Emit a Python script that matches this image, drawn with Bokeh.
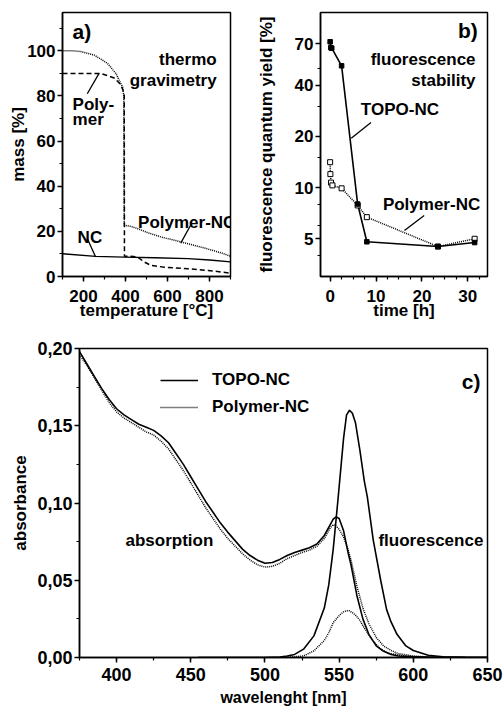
from bokeh.plotting import figure
from bokeh.layouts import column, row
from bokeh.models import (Label, Legend, LegendItem, SingleIntervalTicker, FixedTicker,
                          CustomJSTickFormatter)
from bokeh.embed import file_html
from bokeh.resources import INLINE

FONT = "Liberation Sans"

# ---------------- panel a: thermogravimetry ----------------
tg_temp_polymer = [100, 200, 282, 314, 346, 378, 390, 394, 395, 426, 458, 490, 522, 586, 698, 794, 900]
tg_mass_polymer = [90, 90, 90, 89, 88, 85, 82, 80, 9, 9, 8.6, 6.4, 4.9, 4.1, 3.4, 2.7, 1.5]
tg_temp_polymer_nc = [100, 150, 186, 250, 314, 354, 386, 392, 394, 426, 458, 506, 570, 666, 762, 858, 900]
tg_mass_polymer_nc = [100, 100, 99.7, 98.2, 94.5, 90, 84, 80, 22.7, 22.2, 21.2, 19.4, 17.5, 15.3, 13, 10.4, 9]
tg_temp_nc = [100, 258, 394, 538, 698, 800, 900]
tg_mass_nc = [10.1, 8.9, 8.6, 8.3, 7.9, 7.3, 6.5]

# ---------------- panel b: fluorescence stability ----------------
time_topo = [0, 0.15, 0.35, 2.5, 6, 8, 23.5, 31.5]
qy_topo = [72, 66.5, 66, 52, 8.0, 4.8, 4.5, 4.75]
time_polymer = [0, 0.05, 0.2, 0.5, 2.5, 6, 8, 23.5, 31.5]
qy_polymer = [14.1, 12, 10.7, 10.3, 9.9, 7.85, 6.7, 4.5, 5.0]
qy_ticks = [5, 10, 20, 40, 70]
qy_minor_ticks = [4, 6, 8, 15, 30, 50]

# ---------------- panel c: spectra ----------------
wl_abs = [375, 380, 385, 390, 395, 400, 405, 410, 415, 420, 425, 430, 435, 440, 445, 450,
          455, 460, 465, 470, 475, 480, 485, 490, 495, 500, 505, 510, 515, 520, 525, 530,
          535, 540, 544, 546, 548, 550, 553, 556, 558, 562, 566, 570, 575, 580, 585, 590,
          600, 610, 630, 650]
abs_topo = [0.198, 0.190, 0.182, 0.174, 0.167, 0.161, 0.157, 0.154, 0.151, 0.149, 0.147,
            0.1435, 0.139, 0.132, 0.125, 0.117, 0.109, 0.101, 0.094, 0.087, 0.081, 0.0755,
            0.070, 0.066, 0.063, 0.061, 0.0615, 0.0635, 0.066, 0.068, 0.0695, 0.071,
            0.0735, 0.079, 0.086, 0.0895, 0.091, 0.090, 0.082, 0.068, 0.060, 0.040, 0.025,
            0.015, 0.0075, 0.004, 0.002, 0.001, 0.0004, 0.0001, 0.0, 0.0]
abs_polymer = [0.196, 0.189, 0.181, 0.173, 0.165, 0.159, 0.155, 0.152, 0.149, 0.146, 0.144,
               0.140, 0.135, 0.128, 0.121, 0.113, 0.105, 0.097, 0.090, 0.083, 0.077, 0.072,
               0.067, 0.063, 0.060, 0.0585, 0.059, 0.061, 0.064, 0.066, 0.068, 0.0695,
               0.072, 0.077, 0.084, 0.086, 0.085, 0.083, 0.078, 0.070, 0.063, 0.046, 0.032,
               0.022, 0.013, 0.0075, 0.0045, 0.0025, 0.001, 0.0003, 0.0, 0.0]
wl_fl = [455, 500, 510, 515, 520, 526, 533, 540, 543, 546, 549, 551, 553, 555, 557, 559,
         561, 564, 567, 569, 573, 578, 582, 585, 589, 595, 600, 610, 620, 635, 650]
fl_topo = [0, 0, 0.0003, 0.001, 0.002, 0.0054, 0.014, 0.032, 0.047, 0.070, 0.100, 0.121,
           0.142, 0.157, 0.160, 0.158, 0.152, 0.134, 0.114, 0.104, 0.076, 0.050, 0.031,
           0.023, 0.015, 0.0075, 0.0045, 0.0014, 0.0005, 0.0001, 0.0]
fl_polymer = [0, 0, 0, 0.0002, 0.0005, 0.001, 0.0043, 0.011, 0.016, 0.0225, 0.026, 0.028,
              0.0295, 0.0303, 0.0302, 0.029, 0.0275, 0.024, 0.019, 0.016, 0.0105, 0.0055,
              0.0033, 0.0025, 0.0018, 0.0008, 0.0005, 0.0001, 0.0, 0.0, 0.0]


def style(p, tick_size):
    p.outline_line_color = "black"
    p.outline_line_width = 1.5
    p.xgrid.visible = False
    p.ygrid.visible = False
    p.background_fill_color = "white"
    p.border_fill_color = "white"
    for ax in p.axis:
        ax.axis_line_width = 1.5
        ax.axis_line_color = "black"
        ax.major_tick_in = 0
        ax.major_tick_out = 5
        ax.minor_tick_in = 0
        ax.minor_tick_out = 3
        ax.major_tick_line_width = 1.5
        ax.minor_tick_line_width = 1.2
        ax.major_tick_line_color = "black"
        ax.minor_tick_line_color = "black"
        ax.major_label_text_font = FONT
        ax.major_label_text_font_style = "bold"
        ax.major_label_text_font_size = tick_size
        ax.major_label_text_color = "black"
        ax.major_label_standoff = 2
        ax.axis_label_text_font = FONT
        ax.axis_label_text_font_style = "bold"
        ax.axis_label_text_font_size = "17px"
        ax.axis_label_text_color = "black"


def label(p, x, y, text, align="left", size="17px"):
    p.add_layout(Label(x=x, y=y, text=text, text_align=align, text_baseline="middle",
                       text_font=FONT, text_font_style="bold", text_font_size=size,
                       text_color="black"))


DOT = "1 1"

# ---------------- figure a ----------------
pa = figure(width=252, height=338, x_range=(100, 900), y_range=(0, 117),
            output_backend="svg", toolbar_location=None,
            min_border_left=62, min_border_right=22, min_border_top=12, min_border_bottom=62)
style(pa, "17px")
pa.xaxis.ticker = SingleIntervalTicker(interval=200, num_minor_ticks=2)
pa.yaxis.ticker = SingleIntervalTicker(interval=20, num_minor_ticks=2)
pa.xaxis.axis_label = "temperature [°C]"
pa.yaxis.axis_label = "mass [%]"
pa.xaxis.major_label_standoff = 8
pa.xaxis.axis_label_standoff = -4
pa.yaxis.axis_label_standoff = -4

pa.line(tg_temp_polymer, tg_mass_polymer, line_color="black", line_width=1.5, line_dash="5 3")
pa.line(tg_temp_polymer_nc, tg_mass_polymer_nc, line_color="black", line_width=1.5, line_dash=DOT)
pa.line(tg_temp_nc, tg_mass_nc, line_color="black", line_width=1.4)

label(pa, 148, 108.7, "a)", size="21px")
label(pa, 834, 96, "thermo", align="right")
label(pa, 834, 87, "gravimetry", align="right")
label(pa, 148, 76.4, "Poly-")
label(pa, 148, 69.8, "mer")
label(pa, 460, 24, "Polymer-NC")
label(pa, 172, 17.3, "NC")
pa.segment(x0=[218, 714, 218], y0=[81, 23.4, 16.8], x1=[274, 663, 258], y1=[90, 14.8, 8.6],
           line_color="black", line_width=1.3)

# ---------------- figure b ----------------
pb = figure(width=252, height=338, x_range=(-2.1, 34.3), y_range=(3, 107), y_axis_type="log",
            output_backend="svg", toolbar_location=None,
            min_border_left=68, min_border_right=17, min_border_top=12, min_border_bottom=62)
style(pb, "17px")
pb.xaxis.ticker = SingleIntervalTicker(interval=10, num_minor_ticks=4)
pb.yaxis.ticker = FixedTicker(ticks=qy_ticks, minor_ticks=qy_minor_ticks)
pb.yaxis.formatter = CustomJSTickFormatter(code="return tick.toFixed(0);")
pb.xaxis.axis_label = "time [h]"
pb.yaxis.axis_label = "fluorescence quantum yield [%]"
pb.xaxis.major_label_standoff = 8
pb.xaxis.axis_label_standoff = -4
pb.yaxis.axis_label_standoff = 16

pb.line(time_polymer, qy_polymer, line_color="black", line_width=1.5, line_dash=DOT)
pb.line(time_topo, qy_topo, line_color="black", line_width=1.6)
pb.scatter(time_polymer, qy_polymer, marker="square", size=5, fill_color="white",
           line_color="black", line_width=1)
pb.scatter(time_topo, qy_topo, marker="square", size=4.5, fill_color="black", line_color="black")

label(pb, 32.2, 83.5, "b)", align="right", size="21px")
label(pb, 31.7, 56.9, "fluorescence", align="right")
label(pb, 31.7, 42.8, "stability", align="right")
label(pb, 6.7, 28.9, "TOPO-NC")
label(pb, 11.5, 8.0, "Polymer-NC")
pb.segment(x0=[8.9, 20.5], y0=[24.1, 6.85], x1=[4.6, 16.2], y1=[19.5, 5.6],
           line_color="black", line_width=1.3)

# ---------------- figure c ----------------
pc = figure(width=504, height=373, x_range=(375, 650), y_range=(0, 0.2),
            output_backend="svg", toolbar_location=None,
            min_border_left=79, min_border_right=17, min_border_top=10, min_border_bottom=54)
style(pc, "18px")
pc.xaxis.ticker = SingleIntervalTicker(interval=50, num_minor_ticks=2)
pc.yaxis.ticker = SingleIntervalTicker(interval=0.05, num_minor_ticks=2)
pc.yaxis.formatter = CustomJSTickFormatter(code="return tick.toFixed(2).replace('.', ',');")
pc.xaxis.axis_label = "wavelenght [nm]"
pc.yaxis.axis_label = "absorbance"
pc.xaxis.axis_label_text_font_size = "16px"
pc.xaxis.major_label_standoff = 5
pc.xaxis.axis_label_standoff = 5
pc.yaxis.axis_label_standoff = 4

r_topo = pc.line(wl_abs, abs_topo, line_color="black", line_width=1.6)
r_poly = pc.line(wl_abs, abs_polymer, line_color="black", line_width=1.5, line_dash=DOT)
pc.line(wl_fl, fl_topo, line_color="black", line_width=1.6)
pc.line(wl_fl, fl_polymer, line_color="black", line_width=1.5, line_dash=DOT)

legend = Legend(items=[LegendItem(label="TOPO-NC", renderers=[r_topo]),
                       LegendItem(label="Polymer-NC", renderers=[r_poly])],
                location=(81, 240), glyph_width=38, glyph_height=20, label_height=20,
                label_standoff=14, spacing=7, padding=0, margin=0,
                border_line_color=None, background_fill_alpha=0,
                label_text_font=FONT, label_text_font_style="bold",
                label_text_font_size="17px", label_text_color="black")
pc.add_layout(legend)

label(pc, 645.3, 0.1785, "c)", align="right", size="21px")
label(pc, 406, 0.0757, "absorption")
label(pc, 576.5, 0.0757, "fluorescence")

layout = column(row(pa, pb), pc)
open("out.html", "w").write(file_html(layout, INLINE))
